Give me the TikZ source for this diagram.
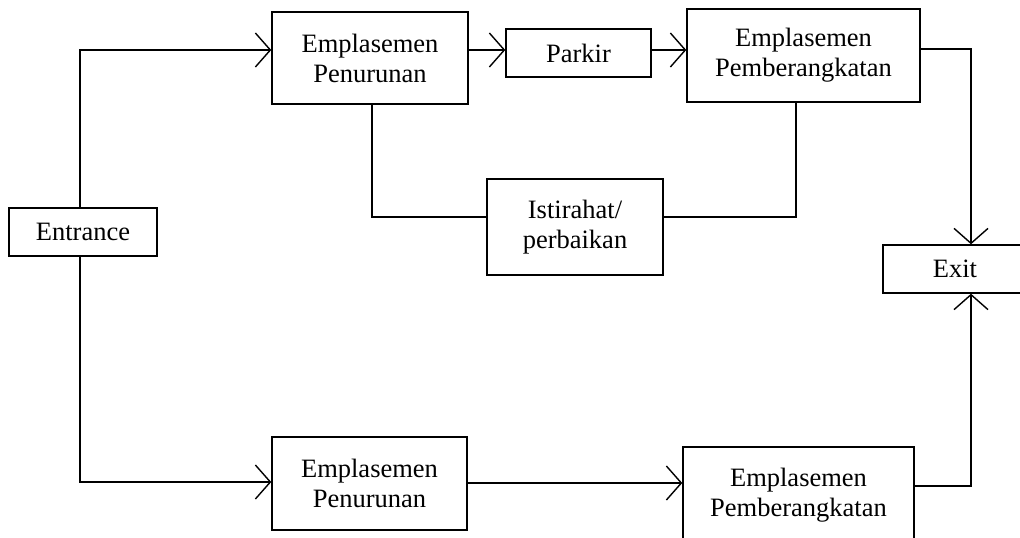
\documentclass[tikz,border=0pt]{standalone}
\usepackage{fontspec}
\setmainfont{Liberation Serif}
\usetikzlibrary{arrows.meta}
\tikzset{
  box/.style={draw, line width=1.4pt, rectangle, inner sep=0pt, align=center,
    font=\fontsize{26.5}{30}\selectfont},
  arr/.style={line width=1.4pt, -{Straight Barb[length=15pt,width=34pt,line width=1.4pt]}},
  ln/.style={line width=1.4pt}
}
\begin{document}
\begin{tikzpicture}[x=1pt,y=-1pt]
\useasboundingbox (0,0) rectangle (1020,538);
\begin{scope}
\clip (0,0) rectangle (1020,538);
\node[box, minimum width=148pt, minimum height=48pt] (entrance) at (83,232) {Entrance};
\node[box, minimum width=196pt, minimum height=92pt] (ep1) at (370,58) {Emplasemen\\Penurunan};
\node[box, minimum width=145pt, minimum height=48pt] (parkir) at (578.5,53) {Parkir};
\node[box, minimum width=233pt, minimum height=93pt] (eb1) at (803.5,55.5) {Emplasemen\\Pemberangkatan};
\node[box, minimum width=176pt, minimum height=96pt] (ist) at (575,227) {Istirahat/\\perbaikan};
\node[box, minimum width=144pt, minimum height=48pt] (exit) at (955,269) {Exit};
\node[box, minimum width=195pt, minimum height=93pt] (ep2) at (369.5,483.5) {Emplasemen\\Penurunan};
\node[box, minimum width=231pt, minimum height=96pt] (eb2) at (798.5,495) {Emplasemen\\Pemberangkatan};

\coordinate (top) at (80,50);
\coordinate (bot) at (80,482);
\coordinate (lnk) at (372,217);
\coordinate (rnk) at (796,217);
\coordinate (ex) at (971,49);
\coordinate (b2) at (0,483);
\coordinate (ex2) at (971,486);

\draw[arr] (entrance.north -| top) |- (ep1.west |- top);
\draw[arr] (entrance.south -| bot) |- (ep2.west |- bot);
\draw[arr] (ep1.east |- top) -- (parkir.west |- top);
\draw[arr] (parkir.east |- top) -- (eb1.west |- top);
\draw[arr] (eb1.east |- ex) -| (exit.north -| ex);
\draw[ln] (ep1.south -| lnk) |- (ist.west |- lnk);
\draw[ln] (eb1.south -| rnk) |- (ist.east |- rnk);
\draw[arr] (ep2.east |- b2) -- (eb2.west |- b2);
\draw[arr] (eb2.east |- ex2) -| (exit.south -| ex2);
\end{scope}
\end{tikzpicture}
\end{document}
